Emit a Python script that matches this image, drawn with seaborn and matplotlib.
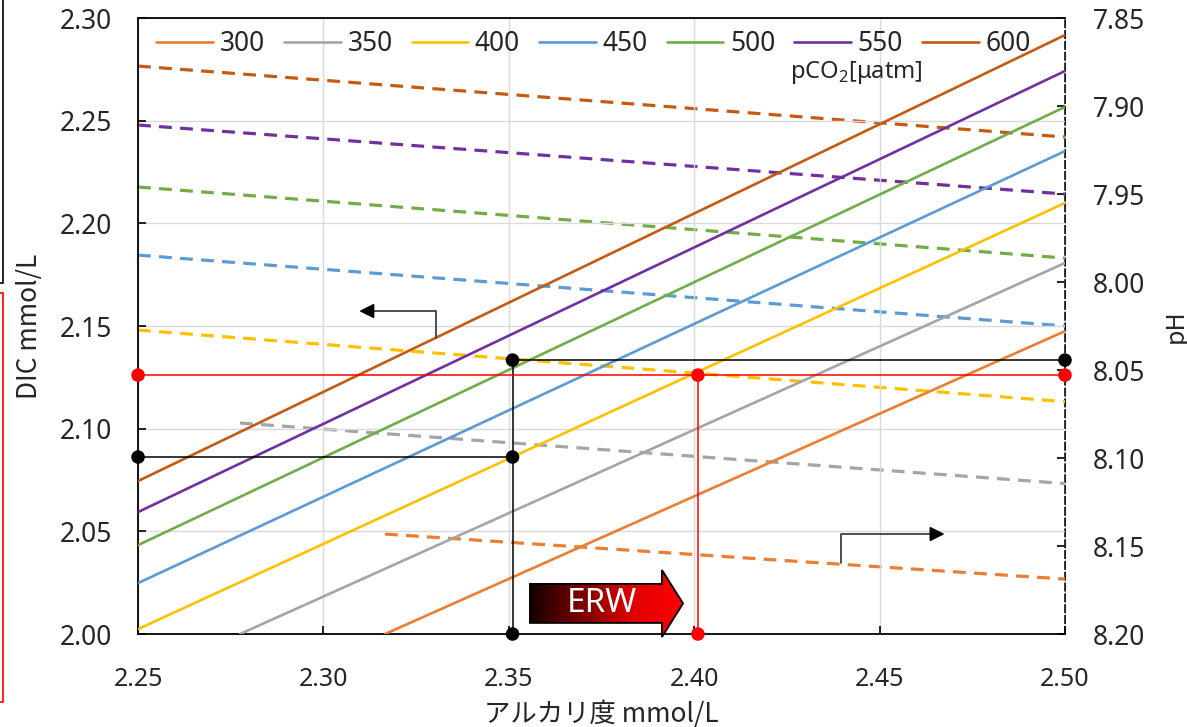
import numpy as np
import pandas as pd
import matplotlib
matplotlib.use("Agg")
import matplotlib.pyplot as plt
import seaborn as sns
from matplotlib.patches import Polygon, Rectangle
from matplotlib.colors import LinearSegmentedColormap

# ---------------- data ----------------
pco2_labels = ["300", "350", "400", "450", "500", "550", "600"]
colors = ["#ED7D31", "#A5A5A5", "#FFC000", "#5B9BD5", "#70AD47", "#7030A0", "#C55A11"]

alk_start = [2.3166, 2.2775, 2.25, 2.25, 2.25, 2.25, 2.25]
alk_end = [2.50, 2.50, 2.50, 2.50, 2.50, 2.50, 2.50]
dic_start = [2.000, 2.000, 2.0024, 2.0248, 2.0433, 2.0594, 2.0745]
dic_end = [2.1475, 2.1807, 2.2099, 2.2352, 2.2567, 2.2742, 2.2917]
ph_start = [8.1432, 8.0801, 8.0273, 7.9847, 7.9460, 7.9108, 7.8773]
ph_end = [8.1688, 8.1145, 8.0680, 8.0250, 7.9864, 7.9500, 7.9176]

# reference-point construction (black: before, red: after ERW)
black_alk = [2.25, 2.351, 2.351, 2.351, 2.50]
black_dic = [2.0862, 2.0862, 2.1334, 2.000, 2.1334]
red_alk = [2.25, 2.401, 2.50, 2.401]
red_dic = [2.1261, 2.1261, 2.1261, 2.000]

x_ticks = [2.25, 2.30, 2.35, 2.40, 2.45, 2.50]
y_ticks = [2.00, 2.05, 2.10, 2.15, 2.20, 2.25, 2.30]
ph_ticks = [7.85, 7.90, 7.95, 8.00, 8.05, 8.10, 8.15, 8.20]

# axis-hint arrows (elbow connectors)
left_arrow_x = [2.3304, 2.3304, 2.3104]
left_arrow_y = [2.1442, 2.1573, 2.1573]
right_arrow_x = [2.4396, 2.4396, 2.4668]
right_arrow_y = [2.0346, 2.0487, 2.0487]

# ERW block arrow outline
erw_x = [2.3557, 2.3913, 2.3913, 2.3970, 2.3913, 2.3913, 2.3557]
erw_y = [2.0244, 2.0244, 2.0312, 2.0149, 1.9985, 2.0054, 2.0054]

dic_df = pd.DataFrame({
    "alk": alk_start + alk_end,
    "dic": dic_start + dic_end,
    "pco2": pco2_labels + pco2_labels,
})
ph_df = pd.DataFrame({
    "alk": alk_start + alk_end,
    "ph": ph_start + ph_end,
    "pco2": pco2_labels + pco2_labels,
})
palette = dict(zip(pco2_labels, colors))

# ---------------- style ----------------
sns.set_theme(style="white")
plt.rcParams["font.family"] = ["Noto Sans", "Noto Sans CJK JP", "DejaVu Sans"]
plt.rcParams["mathtext.fontset"] = "custom"
plt.rcParams["mathtext.rm"] = "Noto Sans"

fig = plt.figure(figsize=(11.87, 7.27), dpi=100)
ax = fig.add_axes([0.1163, 0.1279, 0.7809, 0.8473])
ax2 = ax.twinx()

sns.lineplot(data=dic_df, x="alk", y="dic", hue="pco2", hue_order=pco2_labels,
             palette=palette, ax=ax, linewidth=1.9, zorder=3)
sns.lineplot(data=ph_df, x="alk", y="ph", hue="pco2", hue_order=pco2_labels,
             palette=palette, ax=ax2, linewidth=2.3, legend=False, zorder=3)
for ln in ax2.lines:
    ln.set_linestyle((0, (4.0, 2.6)))

ax.set_xlim(2.25, 2.50)
ax.set_ylim(2.00, 2.30)
ax2.set_ylim(8.20, 7.85)

ax.set_xticks(x_ticks)
ax.set_xticklabels([f"{v:.2f}" for v in x_ticks])
ax.set_yticks(y_ticks)
ax.set_yticklabels([f"{v:.2f}" for v in y_ticks])
ax2.set_yticks(ph_ticks)
ax2.set_yticklabels([f"{v:.2f}" for v in ph_ticks])

ax.grid(True, color="#D9D9D9", linewidth=1.0)
ax.set_axisbelow(True)
ax2.grid(False)

ax.tick_params(axis="x", direction="in", length=6, width=1.2, color="black",
               labelsize=18, pad=24, bottom=True)
ax.tick_params(axis="y", direction="in", length=6, width=1.2, color="black",
               labelsize=19, pad=19, left=True)
ax2.tick_params(axis="y", direction="in", length=6, width=1.2, color="black",
                labelsize=19, pad=20, right=True)

for sp in ["left", "bottom", "top"]:
    ax.spines[sp].set_color("black")
    ax.spines[sp].set_linewidth(1.3)
for sp in ["left", "bottom", "top"]:
    ax2.spines[sp].set_visible(False)
ax2.spines["right"].set_color("black")
ax2.spines["right"].set_linewidth(1.3)
ax2.spines["right"].set_linestyle((0, (4, 2)))
ax.spines["right"].set_visible(False)

ax.set_xlabel("アルカリ度 mmol/L", fontsize=19, family=["Noto Sans CJK JP", "DejaVu Sans"],
              labelpad=6)
ax.set_ylabel("DIC mmol/L", fontsize=19, family=["Noto Sans CJK JP", "DejaVu Sans"],
              labelpad=12)
ax2.set_ylabel("pH", fontsize=18, rotation=90, family=["Noto Sans CJK JP", "DejaVu Sans"],
               labelpad=13)

# legend
handles, labels = ax.get_legend_handles_labels()
ax.legend(handles, labels, loc="upper left", bbox_to_anchor=(0.007, 1.0), ncol=7,
          frameon=False, fontsize=19, handlelength=2.15, handletextpad=0.25,
          columnspacing=0.72, borderaxespad=0.05)
ax.text(0.846, 0.912, "pCO$_2$[μatm]", transform=ax.transAxes, ha="right", va="center",
        fontsize=17)

# construction lines
ax.plot(black_alk[0:2], black_dic[0:2], color="black", lw=1.1, zorder=4)
ax.plot([black_alk[3], black_alk[2]], [black_dic[3], black_dic[2]], color="black", lw=1.1, zorder=4)
ax.plot([black_alk[2], black_alk[4]], [black_dic[2], black_dic[4]], color="black", lw=1.1, zorder=4)
ax.plot([red_alk[0], red_alk[2]], [red_dic[0], red_dic[2]], color="#FF0000", lw=1.1, zorder=4)
ax.plot([red_alk[3], red_alk[1]], [red_dic[3], red_dic[1]], color="#FF0000", lw=1.1, zorder=4)

# axis hint arrows
ax.plot(left_arrow_x, left_arrow_y, color="#404040", lw=1.3, zorder=4)
ax.annotate("", xy=(left_arrow_x[2] - 0.0015, left_arrow_y[2]),
            xytext=(left_arrow_x[2] + 0.003, left_arrow_y[2]),
            arrowprops=dict(arrowstyle="-|>", color="black", lw=1.3, mutation_scale=22),
            zorder=5)
ax.plot(right_arrow_x, right_arrow_y, color="#404040", lw=1.3, zorder=4)
ax.annotate("", xy=(right_arrow_x[2] + 0.0015, right_arrow_y[2]),
            xytext=(right_arrow_x[2] - 0.003, right_arrow_y[2]),
            arrowprops=dict(arrowstyle="-|>", color="black", lw=1.3, mutation_scale=22),
            zorder=5)

# ERW gradient arrow
poly = Polygon(list(zip(erw_x, erw_y)), closed=True, facecolor="none",
               edgecolor="black", lw=1.3, zorder=6, clip_on=False)
ax.add_patch(poly)
cmap = LinearSegmentedColormap.from_list("erw", ["#150000", "#7A0000", "#E00000", "#FF0000"])
img = ax.imshow(np.linspace(0, 1, 256)[None, :], cmap=cmap, aspect="auto",
                extent=[min(erw_x), max(erw_x), min(erw_y), max(erw_y)],
                zorder=5, interpolation="bilinear")
img.set_clip_on(True)
img.set_clip_path(poly)
ax.text((erw_x[0] + erw_x[1]) / 2 + 0.0015, (erw_y[0] + erw_y[-1]) / 2, "ERW",
        color="white", fontsize=24, ha="center", va="center", zorder=7)
ax.set_xlim(2.25, 2.50)
ax.set_ylim(2.00, 2.30)

# dots on top
ax.scatter(black_alk, black_dic, s=95, color="black", zorder=8, clip_on=False, edgecolor="none")
ax.scatter(red_alk, red_dic, s=95, color="#FF0000", zorder=8, clip_on=False, edgecolor="none")
ax.set_zorder(ax2.get_zorder() + 1)
ax.patch.set_visible(False)

# cropped frame remnants on the left edge
fig.patches.append(Rectangle((-0.01, 0.611), 0.0125, 0.40, transform=fig.transFigure,
                             fill=False, edgecolor="black", lw=1.2))
fig.patches.append(Rectangle((-0.01, 0.0344), 0.0125, 0.5626, transform=fig.transFigure,
                             fill=False, edgecolor="#FF0000", lw=1.2))

fig.savefig("out.png", dpi=100)
